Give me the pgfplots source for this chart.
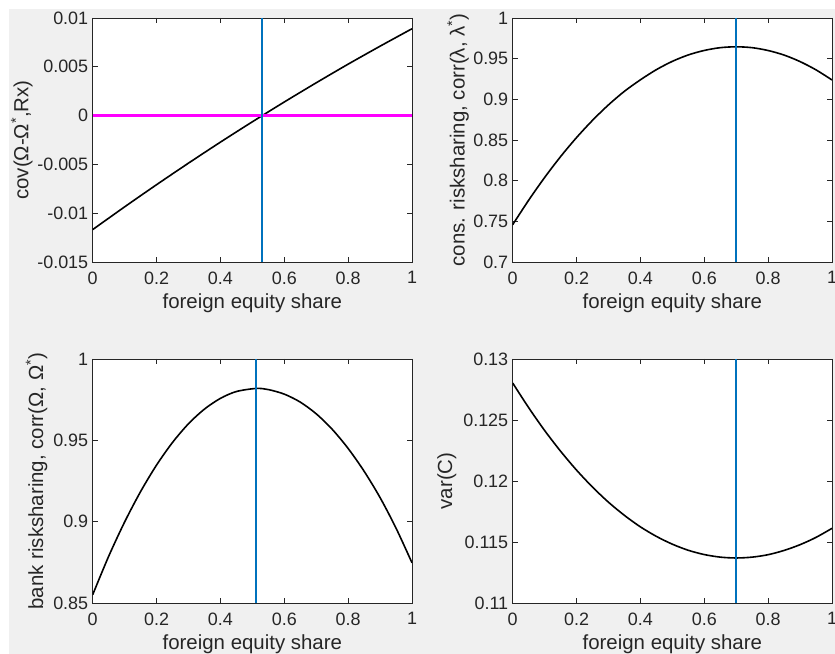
\documentclass[border=0pt]{standalone}
\usepackage{fontspec}
\setmainfont{Liberation Sans}
\usepackage{pgfplots}
\pgfplotsset{compat=1.18}
\definecolor{mblue}{rgb}{0,0.447,0.741}
\definecolor{mmag}{rgb}{1,0,1}
\definecolor{axgray}{rgb}{0.15,0.15,0.15}
\definecolor{figbg}{rgb}{0.94,0.94,0.94}
\pgfplotsset{
  mat/.style={
    scale only axis, width=319.3bp, height=244bp, anchor=south west,
    xmin=0, xmax=1,
    scaled x ticks=false, scaled y ticks=false,
    xtick={0,0.2,0.4,0.6,0.8,1}, xticklabels={0,0.2,0.4,0.6,0.8,1},
    tick align=inside, major tick length=5bp,
    axis line style={axgray, line width=0.8bp},
    every tick/.style={axgray, line width=0.8bp},
    tick label style={font=\fontsize{18}{18}\selectfont, text=axgray},
    xticklabel style={yshift=-6bp},
    yticklabel style={xshift=-1bp},
    label style={font=\fontsize{20.5}{20.5}\selectfont, text=axgray},
    xlabel={foreign equity share},
    xlabel style={at={(axis description cs:0.5,-0.168)}, anchor=center},
    axis background/.style={fill=white},
  },
  curve/.style={draw=black, line width=1.6bp, smooth, no marks},
  vline/.style={draw=mblue, line width=2bp, no marks},
}
\begin{document}
\begin{tikzpicture}
\useasboundingbox (0,0) rectangle (835bp,654bp);
\fill[white] (0,0) rectangle (835bp,654bp);
\fill[figbg] (9bp,0) rectangle (835bp,645bp);

% top-left (values in units of 0.001)
\begin{axis}[mat, at={(92.7bp,392bp)},
  ymin=-15, ymax=10,
  ytick={-15,-10,-5,0,5,10},
  yticklabels={-0.015,-0.01,-0.005,0,0.005,0.01},
  ylabel={cov(Ω-Ω\textsuperscript{*},Rx)},
  ylabel style={at={(axis description cs:-0.222,0.5)}, anchor=center}]
\addplot[curve] coordinates {(0,-11.68) (0.1,-9.35) (0.2,-7.08) (0.3,-4.87) (0.4,-2.72) (0.5,-0.635) (0.6,1.393) (0.7,3.36) (0.8,5.27) (0.9,7.11) (1,8.9)};
\addplot[draw=mmag, line width=2.2bp, no marks] coordinates {(0,0) (0.5,0) (1,0)};
\addplot[draw=mblue, line width=2.2bp, no marks] coordinates {(0.531,-15) (0.531,0) (0.531,10)};
\end{axis}

% top-right
\begin{axis}[mat, at={(512.7bp,392bp)},
  ymin=0.7, ymax=1,
  ytick={0.7,0.75,0.8,0.85,0.9,0.95,1},
  yticklabels={0.7,0.75,0.8,0.85,0.9,0.95,1},
  ylabel={cons. risksharing, corr(λ, λ\textsuperscript{*})},
  ylabel style={at={(axis description cs:-0.171,0.5)}, anchor=center}]
\addplot[curve] coordinates {(0,0.7459) (0.05,0.7760) (0.1,0.8039) (0.15,0.8296) (0.2,0.8530) (0.25,0.8742) (0.3,0.8932) (0.35,0.9099) (0.4,0.9240) (0.45,0.9365) (0.5,0.9467) (0.55,0.9546) (0.6,0.9601) (0.65,0.9635) (0.7,0.9646) (0.75,0.9635) (0.8,0.9600) (0.85,0.9544) (0.9,0.9464) (0.95,0.9362) (1,0.9238)};
\addplot[vline] coordinates {(0.70,0.7) (0.70,1)};
\end{axis}

% bottom-left
\begin{axis}[mat, at={(92.7bp,51bp)},
  ymin=0.85, ymax=1,
  ytick={0.85,0.9,0.95,1},
  yticklabels={0.85,0.9,0.95,1},
  ylabel={bank risksharing, corr(Ω, Ω\textsuperscript{*})},
  ylabel style={at={(axis description cs:-0.176,0.5)}, anchor=center}]
\addplot[curve] coordinates {(0,0.8551) (0.05,0.8787) (0.1,0.8998) (0.15,0.9185) (0.2,0.9348) (0.25,0.9487) (0.3,0.9602) (0.35,0.9692) (0.4,0.9758) (0.45,0.9800) (0.512,0.9819) (0.55,0.9812) (0.6,0.9784) (0.65,0.9735) (0.7,0.9663) (0.75,0.9568) (0.8,0.9450) (0.85,0.9310) (0.9,0.9148) (0.95,0.8960) (1,0.8747)};
\addplot[vline] coordinates {(0.512,0.85) (0.512,1)};
\end{axis}

% bottom-right
\begin{axis}[mat, at={(512.7bp,51bp)},
  ymin=0.11, ymax=0.13,
  ytick={0.11,0.115,0.12,0.125,0.13},
  yticklabels={0.11,0.115,0.12,0.125,0.13},
  ylabel={var(C)},
  ylabel style={at={(axis description cs:-0.206,0.5)}, anchor=center}]
\addplot[curve] coordinates {(0,0.12803) (0.05,0.12601) (0.1,0.12414) (0.15,0.12244) (0.2,0.12089) (0.25,0.11950) (0.3,0.11826) (0.35,0.11718) (0.4,0.11624) (0.45,0.11546) (0.5,0.11482) (0.55,0.11432) (0.6,0.11397) (0.65,0.11376) (0.7,0.11369) (0.75,0.11376) (0.8,0.11396) (0.85,0.11431) (0.9,0.11478) (0.95,0.11538) (1,0.11612)};
\addplot[vline] coordinates {(0.70,0.11) (0.70,0.13)};
\end{axis}
\end{tikzpicture}
\end{document}
